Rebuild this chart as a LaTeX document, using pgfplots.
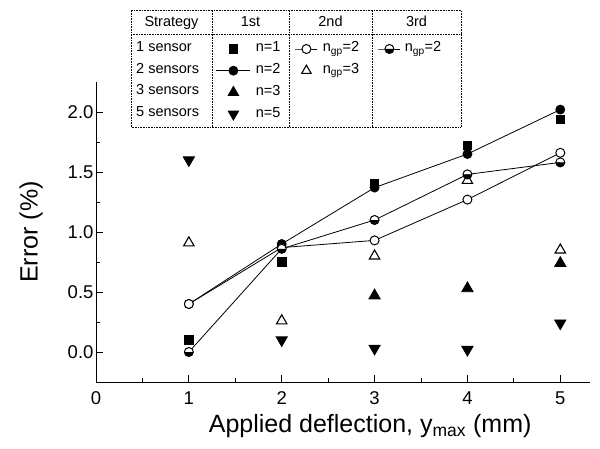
\documentclass[border=0pt]{standalone}
\usepackage{fontspec}
\setmainfont{Liberation Sans}
\usepackage{pgfplots}
\pgfplotsset{compat=1.18}
\usetikzlibrary{plotmarks}

\pgfplotsset{
  tablegend/.style={
    at={(0pt,0pt)}, anchor=south west, scale only axis,
    width=600pt, height=448pt,
    xmin=0, xmax=600, ymin=0, ymax=448, hide axis,
    legend cell align=left,
    legend style={draw=none, fill=none, anchor=north west,
      inner sep=0pt, outer sep=0pt, row sep=7.7pt, column sep=5pt,
      nodes={inner sep=0pt, text height=10pt, text depth=4pt,
             font=\fontsize{14.5}{16}\selectfont}},
  },
}

\begin{document}
\begin{tikzpicture}
\path[use as bounding box] (0pt,0pt) rectangle (600pt,448pt);
\begin{axis}[
    at={(96pt,66pt)}, anchor=south west,
    scale only axis, width=494pt, height=300pt,
    xmin=0, xmax=5.32, ymin=-0.25, ymax=2.25,
    axis x line*=bottom, axis y line*=left,
    axis line style={-, line width=0.8pt},
    xtick={0,1,2,3,4,5}, ytick={0,0.5,1,1.5,2},
    minor x tick num=1, minor y tick num=1,
    tick align=inside, major tick length=7pt, minor tick length=4pt,
    tick style={line width=0.8pt, black},
    /pgf/number format/assume math mode=true,
    ticklabel style={font=\fontsize{18.5}{20}\selectfont},
    xticklabel style={yshift=-6pt},
    yticklabel style={xshift=1pt, /pgf/number format/.cd, fixed, fixed zerofill, precision=1},
    xlabel={Applied deflection, y\textsubscript{max} (mm)},
    ylabel={Error (\%)},
    label style={font=\fontsize{25}{28}\selectfont},
    xlabel style={at={(ticklabel cs:0.555)}, yshift=-3pt},
    ylabel style={yshift=18pt},
    every axis plot/.append style={line width=0.8pt, black},
]
% 1st strategy, 1 sensor (n=1)
\addplot[only marks, mark=square*, mark size=4.2pt] coordinates {
    (1,0.10) (2,0.75) (3,1.40) (4,1.72) (5,1.94)
};
% 1st strategy, 2 sensors (n=2)
\addplot[mark=*, mark size=4.5pt] coordinates {
    (1,0.40) (2,0.90) (3,1.37) (4,1.65) (5,2.02)
};
% 1st strategy, 3 sensors (n=3)
\addplot[only marks, mark=triangle*, mark size=6.5pt] coordinates {
    (3,0.47) (4,0.53) (5,0.74)
};
% 1st strategy, 5 sensors (n=5)
\addplot[only marks, mark=triangle*, mark size=6.5pt, mark options={rotate=180}] coordinates {
    (1,1.60) (2,0.10) (3,0.03) (4,0.02) (5,0.24)
};
% 2nd strategy, n_gp=2
\addplot[mark=*, mark size=4.5pt, mark options={fill=white, line width=1pt}] coordinates {
    (1,0.40) (2,0.87) (3,0.93) (4,1.27) (5,1.66)
};
% 2nd strategy, n_gp=3
\addplot[only marks, mark=triangle*, mark size=6pt, mark options={fill=white, line width=1.1pt}] coordinates {
    (1,0.91) (2,0.26) (3,0.80) (4,1.43) (5,0.85)
};
% 3rd strategy, n_gp=2
\addplot[mark=halfcircle*, mark size=4.5pt, mark color=black, mark options={fill=white, line width=1pt}] coordinates {
    (1,0.00) (2,0.86) (3,1.10) (4,1.48) (5,1.58)
};
\end{axis}

% legend column "1st"
\begin{axis}[tablegend,
    legend style={at={(axis description cs:0.36,0.90625)}},
    legend image code/.code={\draw[mark repeat=2, mark phase=2, #1] plot coordinates {(0pt,0pt) (17pt,0pt) (34pt,0pt)};}]
\addlegendimage{/tikz/only marks, mark=square*, mark size=4.2pt, line width=0.8pt}
\addlegendimage{mark=*, mark size=4.5pt, line width=0.8pt}
\addlegendimage{/tikz/only marks, mark=triangle*, mark size=6pt, line width=0.8pt}
\addlegendimage{/tikz/only marks, mark=triangle*, mark size=6pt, line width=0.8pt, mark options={rotate=180}}
\legend{n=1, n=2, n=3, n=5}
\end{axis}

% legend column "2nd"
\begin{axis}[tablegend,
    legend style={at={(axis description cs:0.49167,0.90625)}},
    legend image code/.code={\draw[mark repeat=2, mark phase=2, #1] plot coordinates {(0pt,0pt) (11pt,0pt) (22pt,0pt)};}]
\addlegendimage{empty legend}
\addlegendimage{mark=*, mark size=4.5pt, line width=0.8pt, mark options={fill=white, line width=1pt}}
\addlegendimage{/tikz/only marks, mark=triangle*, mark size=5.5pt, mark options={fill=white, line width=1.1pt}}
\legend{{}, n\textsubscript{gp}=2, n\textsubscript{gp}=3}
\end{axis}

% legend column "3rd"
\begin{axis}[tablegend,
    legend style={at={(axis description cs:0.63,0.90625)}, column sep=4pt},
    legend image code/.code={\draw[mark repeat=2, mark phase=2, #1] plot coordinates {(0pt,0pt) (11pt,0pt) (22pt,0pt)};}]
\addlegendimage{empty legend}
\addlegendimage{mark=halfcircle*, mark size=4.5pt, line width=0.8pt, mark color=black, mark options={fill=white, line width=1pt}}
\legend{{}, n\textsubscript{gp}=2}
\end{axis}

% table frame
\begin{scope}[densely dotted, line width=0.6pt]
\draw (131pt,321pt) rectangle (461pt,438pt);
\draw (131pt,414pt) -- (461pt,414pt);
\draw (212pt,321pt) -- (212pt,438pt);
\draw (289pt,321pt) -- (289pt,438pt);
\draw (372pt,321pt) -- (372pt,438pt);
\end{scope}
\begin{scope}[every node/.style={inner sep=0pt, text height=10pt, text depth=4pt, font=\fontsize{14.5}{16}\selectfont}]
\node at (171.5pt,424pt) {Strategy};
\node at (250.5pt,424pt) {1st};
\node at (330.5pt,424pt) {2nd};
\node at (416.5pt,424pt) {3rd};
\node[anchor=west] at (136pt,399pt) {1 sensor};
\node[anchor=west] at (136pt,377.5pt) {2 sensors};
\node[anchor=west] at (136pt,356pt) {3 sensors};
\node[anchor=west] at (136pt,334.5pt) {5 sensors};
\end{scope}
\end{tikzpicture}
\end{document}
